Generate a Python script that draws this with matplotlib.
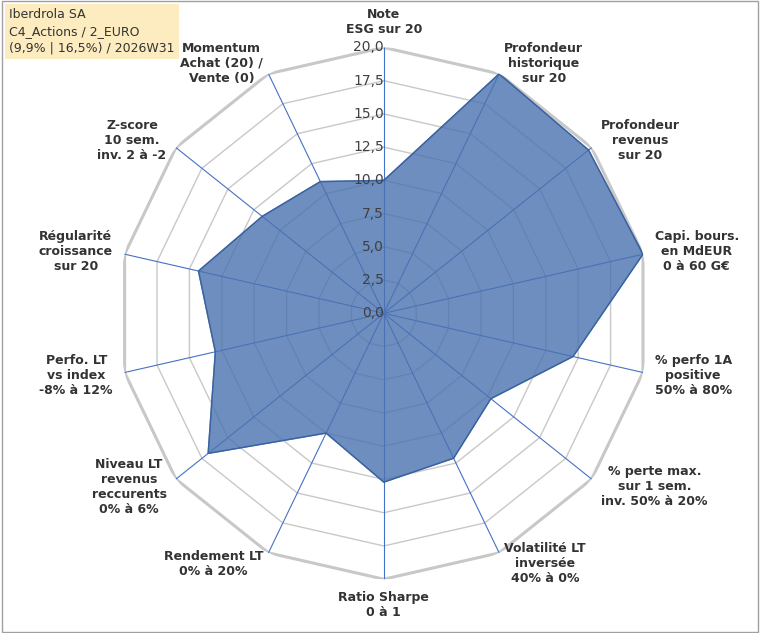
import numpy as np
import matplotlib.pyplot as plt

labels = ['Note\nESG sur 20', 'Profondeur\nhistorique\nsur 20', 'Profondeur\nrevenus\nsur 20',
          'Capi. bours.\nen MdEUR\n0 à 60 G€', '% perfo 1A\npositive\n50% à 80%',
          '% perte max.\nsur 1 sem.\ninv. 50% à 20%', 'Volatilité LT\ninversée\n40% à 0%',
          'Ratio Sharpe\n0 à 1', 'Rendement LT\n0% à 20%', 'Niveau LT\nrevenus\nreccurents\n0% à 6%',
          'Perfo. LT\nvs index\n-8% à 12%', 'Régularité\ncroissance\nsur 20',
          'Z-score\n10 sem.\ninv. 2 à -2', 'Momentum\nAchat (20) /\nVente (0)']
values = [10.0, 20.0, 19.7, 20.0, 14.6, 10.3, 12.1, 12.7, 10.0, 16.9, 13.0, 14.3, 11.7, 11.0]
ticks = [0, 2.5, 5, 7.5, 10, 12.5, 15, 17.5, 20]

n = len(labels)
ang = np.linspace(0, 2 * np.pi, n, endpoint=False)

fig = plt.figure(figsize=(7.6, 6.33), dpi=100)
ax = fig.add_axes([0.085, 0.085, 0.84, 0.84], projection='polar')
ax.set_theta_zero_location('N')
ax.set_theta_direction(-1)
ax.set_ylim(0, 20)
ax.grid(False)
ax.spines['polar'].set_visible(False)
ax.set_xticks([])
ax.set_yticks([])

closed = np.append(ang, ang[0])
for t in ticks[1:]:
    ax.plot(closed, [t] * (n + 1), color='#c8c8c8', lw=1.0 if t < 20 else 2.2, zorder=1)
for a in ang:
    ax.plot([a, a], [0, 20], color='#4472c4', lw=0.8, zorder=2)

v = np.append(values, values[0])
ax.fill(closed, v, color='#4a72b0', alpha=0.8, zorder=3)
ax.plot(closed, v, color='#3a62a0', lw=1, zorder=4)

for t in ticks:
    ax.text(0, t, f'{t:.1f}'.replace('.', ','), ha='right', va='center', fontsize=10,
            color='#404040', zorder=5)

for a, lab in zip(ang, labels):
    s, c = np.sin(a), np.cos(a)
    ha = 'center' if abs(s) < 0.2 else ('left' if s > 0 else 'right')
    va = 'center'
    if abs(s) < 0.2:
        va = 'bottom' if c > 0 else 'top'
    ax.text(a, 20.9, lab, ha=ha, va=va, fontsize=9, fontweight='bold', color='#333333',
            linespacing=1.2, multialignment='center')

fig.text(0.012, 0.987, 'Iberdrola SA\nC4_Actions / 2_EURO\n(9,9% | 16,5%) / 2026W31',
         ha='left', va='top', fontsize=9, color='#333333', linespacing=1.35,
         bbox=dict(boxstyle='square,pad=0.35', fc='#fdecc0', ec='none'))
fig.patches.append(plt.Rectangle((0.002, 0.002), 0.996, 0.996, transform=fig.transFigure,
                                 fill=False, ec='#a0a0a0', lw=1))
fig.savefig('out.png', dpi=100)
